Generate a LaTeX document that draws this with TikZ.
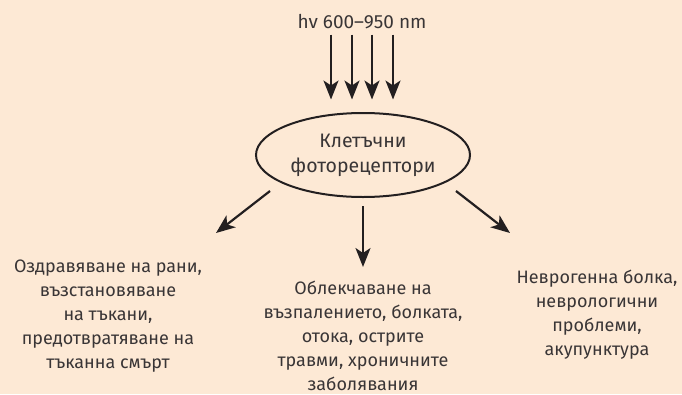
\documentclass[tikz,border=0pt]{standalone}
\usepackage{fontspec}
\setmainfont{Fira Sans}
\usetikzlibrary{arrows.meta}
\usetikzlibrary{positioning}
\usetikzlibrary{shapes.geometric}
\definecolor{peach}{RGB}{253,233,213}
\definecolor{ink}{RGB}{35,31,32}
\tikzset{
	>={Stealth[length=19pt,width=15pt,inset=5pt]},
	flow/.style={draw=ink, line width=2.2pt, ->},
	receptor/.style={
		ellipse,
		draw=ink, line width=2pt,
		minimum width=214pt,
		minimum height=84pt,
		inner sep=0pt,
		align=center,
		text=ink!90,
		font=\fontsize{19.5}{25}\selectfont},
	outcome/.style={
		align=center,
		inner sep=0pt,
		text=ink!90,
		font=\fontsize{18}{24}\selectfont},
}

\begin{document}
\begin{tikzpicture}[x=1pt, y=-1pt]
		\fill[peach] (0,0) rectangle (682,394);
		\useasboundingbox (0,0) rectangle (682,394);
		\node[outcome, font=\fontsize{19}{22}\selectfont] (title) at (362,22) {hv 600–950 nm};
		\node[receptor] (cells) at (363,155) {Клетъчни\\фоторецептори};
		% light falling on the receptors
		\foreach \dx in {-31,-10,10,31}
			\draw[flow] ([xshift=\dx pt]title.south) ++(0,5) -- ++(0,65);
		% outcomes
		\node[outcome] (heal) at (108,316) {Оздравяване на рани,\\възстановяване\\на тъкани,\\предотвратяване на\\тъканна смърт};
		\node[outcome] (relief) at (363,336) {Облекчаване на\\възпалението, болката,\\отока, острите\\травми, хроничните\\заболявания};
		\node[outcome] (neuro) at (597,315) {Неврогенна болка,\\неврологични\\проблеми,\\акупунктура};
		\coordinate (l1) at (270,191);
		\coordinate (l2) at (216,233);
		\coordinate (m1) at (363,206);
		\coordinate (m2) at (363,267);
		\coordinate (r1) at (456,191);
		\coordinate (r2) at (510,233);
		\draw[flow] (l1) -- (l2);
		\draw[flow] (m1) -- (m2);
		\draw[flow] (r1) -- (r2);
\end{tikzpicture}
\end{document}
